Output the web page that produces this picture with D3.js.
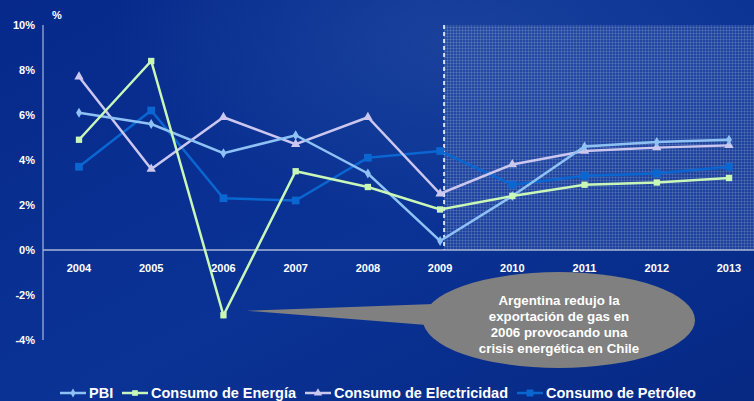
<!DOCTYPE html>
<html>
<head>
<meta charset="utf-8">
<script src="https://cdn.jsdelivr.net/npm/d3@7"></script>
<style>
  body { margin: 0; background: #07298a; }
  svg { display: block; font-family: Arial, "Liberation Sans", sans-serif; }
</style>
</head>
<body>
<svg id="chart" width="754" height="401"></svg>
<script>
var years = ['2004', '2005', '2006', '2007', '2008', '2009', '2010', '2011', '2012', '2013'];
var pbi = [6.1, 5.6, 4.3, 5.1, 3.4, 0.4, 2.4, 4.6, 4.8, 4.9];
var energia = [4.9, 8.4, -2.9, 3.5, 2.8, 1.8, 2.4, 2.9, 3.0, 3.2];
var electricidad = [7.7, 3.6, 5.9, 4.7, 5.9, 2.5, 3.8, 4.4, 4.55, 4.65];
var petroleo = [3.7, 6.2, 2.3, 2.2, 4.1, 4.4, 2.9, 3.3, 3.4, 3.7];
var yTicks = [10, 8, 6, 4, 2, 0, -2, -4];
var seriesNames = ['PBI', 'Consumo de Energía', 'Consumo de Electricidad', 'Consumo de Petróleo'];
var calloutLines = ['Argentina redujo la', 'exportación de gas en', '2006 provocando una', 'crisis energética en Chile'];

var width = 754, height = 401;
var svg = d3.select('#chart');

// background
var defs = svg.append('defs');
var bg = defs.append('linearGradient').attr('id', 'bg').attr('x1', 0).attr('y1', 0).attr('x2', 1).attr('y2', 1);
bg.append('stop').attr('offset', '0%').attr('stop-color', '#06298b');
bg.append('stop').attr('offset', '55%').attr('stop-color', '#0a3395');
bg.append('stop').attr('offset', '100%').attr('stop-color', '#062883');
var glow = defs.append('radialGradient').attr('id', 'glow').attr('cx', 0.6).attr('cy', 0.1).attr('r', 0.45);
glow.append('stop').attr('offset', '0%').attr('stop-color', '#2a55a8').attr('stop-opacity', 0.5);
glow.append('stop').attr('offset', '100%').attr('stop-color', '#2a55a8').attr('stop-opacity', 0);

var hatch = defs.append('pattern').attr('id', 'hatch').attr('patternUnits', 'userSpaceOnUse')
  .attr('width', 3).attr('height', 3);
hatch.append('rect').attr('width', 3).attr('height', 3).attr('fill', '#2f52a8').attr('opacity', 0.55);
hatch.append('rect').attr('width', 3).attr('height', 1).attr('fill', '#ffffff').attr('opacity', 0.12);
hatch.append('rect').attr('width', 1).attr('height', 3).attr('fill', '#ffffff').attr('opacity', 0.12);

svg.append('rect').attr('width', width).attr('height', height).attr('fill', 'url(#bg)');
svg.append('rect').attr('width', width).attr('height', height).attr('fill', 'url(#glow)');

var x = d3.scalePoint().domain(years).range([79, 729]);
var y = d3.scaleLinear().domain([-4, 10]).range([340, 25]);

// projection zone (2009 onwards)
var zoneX = x('2009') + 4;
svg.append('rect')
  .attr('x', zoneX).attr('y', y(10))
  .attr('width', width - zoneX).attr('height', y(0) - y(10))
  .attr('fill', 'url(#hatch)');
svg.append('line')
  .attr('x1', zoneX).attr('x2', zoneX).attr('y1', y(10)).attr('y2', y(0))
  .attr('stroke', '#d8e0f4').attr('stroke-width', 2).attr('stroke-dasharray', '4,3');

// y axis
svg.append('line').attr('x1', 43).attr('x2', 43).attr('y1', y(10)).attr('y2', y(-4))
  .attr('stroke', '#c8d2ee').attr('stroke-width', 1);
svg.append('line').attr('x1', 43).attr('x2', width).attr('y1', y(0)).attr('y2', y(0))
  .attr('stroke', '#a9b6d6').attr('stroke-width', 1.5);

svg.selectAll('.ytick').data(yTicks).enter().append('text')
  .attr('class', 'ytick')
  .attr('x', 35).attr('y', d => y(d)).attr('dy', '0.35em')
  .attr('text-anchor', 'end')
  .attr('fill', '#fff').attr('font-size', 11).attr('font-weight', 'bold')
  .text(d => d + '%');
svg.append('text').attr('x', 57).attr('y', 19).attr('text-anchor', 'middle')
  .attr('fill', '#fff').attr('font-size', 11).attr('font-weight', 'bold').text('%');

svg.selectAll('.xtick').data(years).enter().append('text')
  .attr('class', 'xtick')
  .attr('x', d => x(d)).attr('y', 272)
  .attr('text-anchor', 'middle')
  .attr('fill', '#fff').attr('font-size', 11).attr('font-weight', 'bold')
  .text(d => d);

// series
var series = [
  { name: seriesNames[0], values: pbi, color: '#8fc2f4', marker: d3.symbolDiamond, size: 30 },
  { name: seriesNames[1], values: energia, color: '#c9f7b7', marker: d3.symbolSquare, size: 40 },
  { name: seriesNames[2], values: electricidad, color: '#cbc7ef', marker: d3.symbolTriangle, size: 38 },
  { name: seriesNames[3], values: petroleo, color: '#0a66d0', marker: d3.symbolSquare, size: 60 }
];

var line = d3.line().x((d, i) => x(years[i])).y(d => y(d));

var drawOrder = [3, 2, 0, 1];
drawOrder.forEach(function (k) {
  var s = series[k];
  var g = svg.append('g');
  g.append('path').datum(s.values)
    .attr('d', line).attr('fill', 'none')
    .attr('stroke', s.color).attr('stroke-width', 2.5).attr('stroke-linejoin', 'miter');
  g.selectAll('path.mk').data(s.values).enter().append('path')
    .attr('class', 'mk')
    .attr('transform', (d, i) => `translate(${x(years[i])},${y(d)})`)
    .attr('d', d3.symbol().type(s.marker).size(s.size))
    .attr('fill', s.color);
});

// callout pointing at the 2006 energy drop
var cx = 559, cy = 320;
var tip = [x('2006') + 23, y(-2.7)];
svg.append('path')
  .attr('d', `M${tip[0]},${tip[1]} L${cx - 125},${cy - 16} L${cx - 120},${cy + 6} Z`)
  .attr('fill', '#808080');
svg.append('ellipse').attr('cx', cx).attr('cy', cy).attr('rx', 136).attr('ry', 48)
  .attr('fill', '#808080');
svg.selectAll('.callout').data(calloutLines).enter().append('text')
  .attr('class', 'callout')
  .attr('x', cx).attr('y', (d, i) => cy - 20 + i * 16).attr('dy', '0.35em')
  .attr('text-anchor', 'middle').attr('fill', '#fff')
  .attr('font-size', 13.3).attr('font-weight', 'bold')
  .text(d => d);

// legend
var legendX = [60, 122, 305, 517];
var lg = svg.append('g');
series.forEach(function (s, i) {
  var lx = legendX[i];
  lg.append('line').attr('x1', lx).attr('x2', lx + 26).attr('y1', 393).attr('y2', 393)
    .attr('stroke', s.color).attr('stroke-width', 2.5);
  lg.append('path').attr('transform', `translate(${lx + 13},393)`)
    .attr('d', d3.symbol().type(s.marker).size(s.size * 0.8)).attr('fill', s.color);
  lg.append('text').attr('x', lx + 29).attr('y', 393).attr('dy', '0.35em')
    .attr('fill', '#fff').attr('font-size', 14.5).attr('font-weight', 'bold')
    .text(s.name);
});
</script>
</body>
</html>
